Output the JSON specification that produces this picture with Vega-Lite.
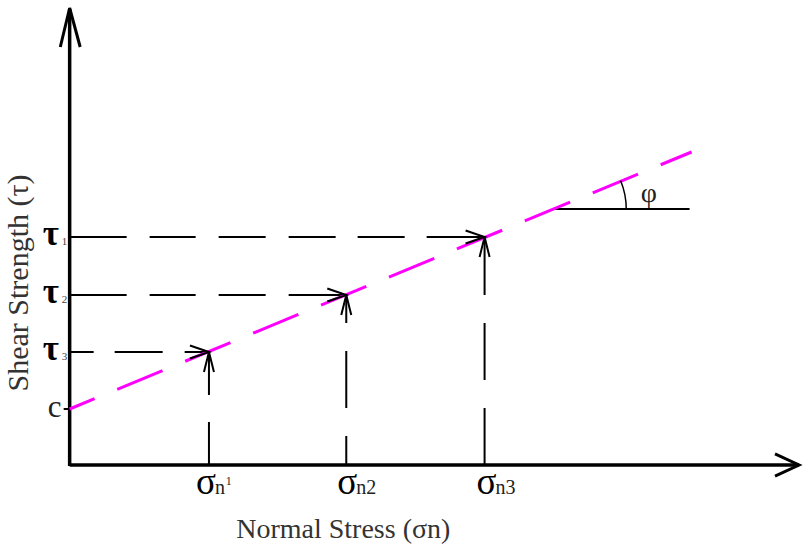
{
  "$schema": "https://vega.github.io/schema/vega-lite/v6.json",
  "width": 805,
  "height": 544,
  "padding": 0,
  "autosize": {"type": "fit", "contains": "padding"},
  "background": "white",
  "config": {"view": {"stroke": null}},
  "encoding": {
    "x": {"field": "x", "type": "quantitative", "scale": {"domain": [-70, 735], "nice": false, "zero": false}, "axis": null},
    "y": {"field": "y", "type": "quantitative", "scale": {"domain": [-79, 465], "nice": false, "zero": false}, "axis": null}
  },
  "layer": [
    {
      "data": {"values": [
        {"x": 0, "y": 0, "x2": 733, "y2": 0},
        {"x": 0, "y": -1, "x2": 0, "y2": 456}
      ]},
      "mark": {"type": "rule", "stroke": "black", "strokeWidth": 3.5},
      "encoding": {"x2": {"field": "x2"}, "y2": {"field": "y2"}}
    },
    {
      "data": {"values": [
        {"x": -6, "y": 56, "x2": 0, "y2": 56},
        {"x": 485, "y": 256, "x2": 623, "y2": 256}
      ]},
      "mark": {"type": "rule", "stroke": "black", "strokeWidth": 2},
      "encoding": {"x2": {"field": "x2"}, "y2": {"field": "y2"}}
    },
    {
      "data": {"values": [
        {"id": "h1", "x": 0, "y": 228, "x2": 417, "y2": 228},
        {"id": "h2", "x": 0, "y": 170, "x2": 278, "y2": 170},
        {"id": "h3", "x": 0, "y": 113, "x2": 140, "y2": 113},
        {"id": "v1", "x": 140, "y": 0, "x2": 140, "y2": 113},
        {"id": "v2", "x": 278, "y": 0, "x2": 278, "y2": 170},
        {"id": "v3", "x": 417, "y": 0, "x2": 417, "y2": 228}
      ]},
      "mark": {"type": "rule", "stroke": "black", "strokeWidth": 2, "strokeCap": "butt"},
      "encoding": {
        "x2": {"field": "x2"},
        "y2": {"field": "y2"},
        "strokeDash": {
          "field": "id", "type": "nominal", "legend": null,
          "scale": {
            "domain": ["h1", "h2", "h3", "v1", "v2", "v3"],
            "range": [
              [57, 23, 46, 23, 47, 23, 47, 22, 47, 22, 80],
              [57, 23, 46, 23, 47, 23, 80],
              [24, 21, 48, 22, 80],
              [43, 27, 80],
              [29, 28, 57, 28, 80],
              [57, 28, 57, 28, 80]
            ]
          }
        }
      }
    },
    {
      "data": {"values": [
        {"x": 0, "y": 56},
        {"x": 625, "y": 313}
      ]},
      "mark": {"type": "line", "stroke": "#ff00ff", "strokeWidth": 3, "strokeDash": [49, 24.5], "strokeDashOffset": 22, "strokeCap": "butt"},
      "encoding": {}
    },
    {
      "data": {"values": [{"x": 485, "y": 256}]},
      "mark": {"type": "arc", "theta": 1.18, "theta2": 1.5708, "radius": 74, "radius2": 74, "filled": false, "fill": null, "stroke": "black", "strokeWidth": 1.5}
    },
    {
      "data": {"values": [
        {"x": 140, "y": 113},
        {"x": 278, "y": 170},
        {"x": 417, "y": 228}
      ]},
      "mark": {"type": "point", "shape": "M-1,-0.34L0,0L-1,0.34", "size": 1444, "filled": false, "stroke": "black", "strokeWidth": 2, "opacity": 1}
    },
    {
      "data": {"values": [
        {"x": 140, "y": 113},
        {"x": 278, "y": 170},
        {"x": 417, "y": 228}
      ]},
      "mark": {"type": "point", "shape": "M-0.25,1L0,0L0.25,1", "size": 1600, "filled": false, "stroke": "black", "strokeWidth": 2, "opacity": 1}
    },
    {
      "data": {"values": [{"x": 0, "y": 457}]},
      "mark": {"type": "point", "shape": "M-0.24,1L0,0L0.27,1", "size": 6084, "filled": false, "stroke": "black", "strokeWidth": 3, "opacity": 1}
    },
    {
      "data": {"values": [{"x": 733, "y": 0}]},
      "mark": {"type": "point", "shape": "M-1,-0.46L0,0L-1,0.46", "size": 2304, "filled": false, "stroke": "black", "strokeWidth": 3, "opacity": 1}
    },
    {
      "data": {"values": [
        {"x": -19, "y": 220, "t": "τ"},
        {"x": -19, "y": 162, "t": "τ"},
        {"x": -19, "y": 105, "t": "τ"}
      ]},
      "mark": {"type": "text", "font": "Liberation Serif", "fontSize": 35, "fontWeight": "bold", "align": "center", "baseline": "alphabetic", "color": "black"},
      "encoding": {"text": {"field": "t"}}
    },
    {
      "data": {"values": [
        {"x": -8, "y": 220, "t": "1"},
        {"x": -8, "y": 162, "t": "2"},
        {"x": -8, "y": 105, "t": "3"}
      ]},
      "mark": {"type": "text", "font": "Liberation Serif", "fontSize": 11, "align": "left", "baseline": "alphabetic", "color": "#444"},
      "encoding": {"text": {"field": "t"}}
    },
    {
      "data": {"values": [{"x": -15, "y": 48, "t": "c"}]},
      "mark": {"type": "text", "font": "Liberation Serif", "fontSize": 31, "align": "center", "baseline": "alphabetic", "color": "#222"},
      "encoding": {"text": {"field": "t"}}
    },
    {
      "data": {"values": [
        {"x": 137, "y": -29, "t": "σ"},
        {"x": 279, "y": -29, "t": "σ"},
        {"x": 419, "y": -29, "t": "σ"}
      ]},
      "mark": {"type": "text", "font": "Liberation Serif", "fontSize": 37, "align": "center", "baseline": "alphabetic", "color": "black"},
      "encoding": {"text": {"field": "t"}}
    },
    {
      "data": {"values": [
        {"x": 146, "y": -29, "t": "n"},
        {"x": 288, "y": -29, "t": "n2"},
        {"x": 428, "y": -29, "t": "n3"}
      ]},
      "mark": {"type": "text", "font": "Liberation Serif", "fontSize": 20, "align": "left", "baseline": "alphabetic", "color": "#222"},
      "encoding": {"text": {"field": "t"}}
    },
    {
      "data": {"values": [{"x": 157, "y": -20, "t": "1"}]},
      "mark": {"type": "text", "font": "Liberation Serif", "fontSize": 12, "align": "left", "baseline": "alphabetic", "color": "#222"},
      "encoding": {"text": {"field": "t"}}
    },
    {
      "data": {"values": [{"x": 582, "y": 263, "t": "φ"}]},
      "mark": {"type": "text", "font": "Liberation Serif", "fontSize": 28, "align": "center", "baseline": "alphabetic", "color": "#222"},
      "encoding": {"text": {"field": "t"}}
    },
    {
      "data": {"values": [{"x": 275, "y": -73, "t": "Normal Stress (σn)"}]},
      "mark": {"type": "text", "font": "Liberation Serif", "fontSize": 28, "align": "center", "baseline": "alphabetic", "color": "#333"},
      "encoding": {"text": {"field": "t"}}
    },
    {
      "data": {"values": [{"x": -42, "y": 182, "t": "Shear Strength (τ)"}]},
      "mark": {"type": "text", "font": "Liberation Serif", "fontSize": 30, "angle": 270, "align": "center", "baseline": "alphabetic", "color": "#333"},
      "encoding": {"text": {"field": "t"}}
    }
  ]
}
